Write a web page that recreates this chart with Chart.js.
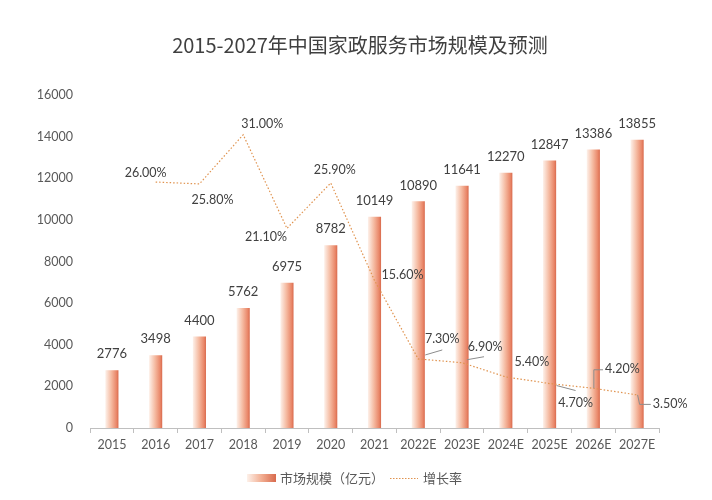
<!DOCTYPE html>
<html>
<head>
<meta charset="utf-8">
<script src="https://cdn.jsdelivr.net/npm/chart.js@4/dist/chart.umd.min.js"></script>
<style>
  html, body { margin: 0; padding: 0; background: #ffffff; }
  #wrap { width: 712px; height: 500px; position: relative; }
</style>
</head>
<body>
<div id="wrap"><canvas id="c" width="712" height="500"></canvas></div>
<script>
// ---- data ----
const categories = ['2015','2016','2017','2018','2019','2020','2021','2022E','2023E','2024E','2025E','2026E','2027E'];
const marketSize = [2776, 3498, 4400, 5762, 6975, 8782, 10149, 10890, 11641, 12270, 12847, 13386, 13855];
const growthRate = [null, 26.0, 25.8, 31.0, 21.1, 25.9, 15.6, 7.3, 6.9, 5.4, 4.7, 4.2, 3.5];
const yTicks = ['0','2000','4000','6000','8000','10000','12000','14000','16000'];
const titleText = '2015-2027年中国家政服务市场规模及预测';
const barSeriesName = '市场规模（亿元）';
const lineSeriesName = '增长率';

// ---- styling / label placement (not data) ----
const BAR_PCT = 0.3;
// label offset from point [dx, dy]; leader: null or {type, start:[dx,dy] from point, end:[dx,dy] from label centre}
const lineLabelOffsets = [
  null, [-10,-9], [13,16], [19,-11], [-21,9], [4,-13], [28,-5],
  [24,-20], [23,-16], [26,-15], [26,19], [29,-19], [33,9]
];
const lineLeaders = [
  null, null, null, null, null, null, null,
  {type: 'line', start: [7,-4], end: [0,11]},
  {type: 'line', start: [5,-3], end: [-1,10]},
  null,
  {type: 'line', start: [7,2], end: [0,-12]},
  {type: 'elbow', start: [0,0]},
  {type: 'elbow', start: [0,0]}
];

function barGradient(ctx) {
  const chart = ctx.chart;
  const xs = chart.scales && chart.scales.x;
  if (!xs || !chart.chartArea) return '#EE9A7C';
  const cx = xs.getPixelForValue(ctx.dataIndex);
  const half = (xs.width / categories.length) * BAR_PCT / 2;
  const g = chart.ctx.createLinearGradient(cx - half, 0, cx + half, 0);
  g.addColorStop(0, '#FDF1EA');
  g.addColorStop(0.45, '#F5BBA2');
  g.addColorStop(0.85, '#E98668');
  g.addColorStop(1, '#D86A4D');
  return g;
}

const labelPlugin = {
  id: 'labels',
  afterDatasetsDraw(chart) {
    const c = chart.ctx;
    c.save();
    // bar value labels
    c.font = '13px Lato, "Noto Sans", sans-serif';
    c.fillStyle = '#404040';
    c.textAlign = 'center';
    c.textBaseline = 'middle';
    const bm = chart.getDatasetMeta(0);
    bm.data.forEach((el, i) => {
      c.fillText(String(marketSize[i]), el.x, el.y - 16);
    });
    // line labels
    c.font = '12.5px Lato, "Noto Sans", sans-serif';
    const lm = chart.getDatasetMeta(1);
    lm.data.forEach((el, i) => {
      const v = growthRate[i];
      if (v === null || v === undefined) return;
      const o = lineLabelOffsets[i];
      const tx = el.x + o[0], ty = el.y + o[1];
      const txt = v.toFixed(2) + '%';
      const w = c.measureText(txt).width;
      const L = lineLeaders[i];
      c.strokeStyle = '#8C8C8C';
      c.lineWidth = 1;
      if (L && L.type === 'line') {
        c.beginPath();
        c.moveTo(el.x + L.start[0], el.y + L.start[1]);
        c.lineTo(tx + L.end[0], ty + L.end[1]);
        c.stroke();
      } else if (L && L.type === 'elbow') {
        c.beginPath();
        c.moveTo(el.x + 0.5, el.y);
        c.lineTo(el.x + 0.5 + (ty > el.y ? 2 : 0), ty + 0.5);
        c.lineTo(tx - w / 2 - 2, ty + 0.5);
        c.stroke();
      }
      c.fillStyle = '#404040';
      c.fillText(txt, tx, ty);
    });
    c.restore();
  },
  afterDraw(chart) {
    const c = chart.ctx;
    c.save();
    // title
    c.font = '20px "Noto Sans CJK SC", Lato, sans-serif';
    c.fillStyle = '#404040';
    c.textAlign = 'center';
    c.textBaseline = 'middle';
    c.fillText(titleText, 360, 45);
    // legend
    const g = c.createLinearGradient(247, 0, 276, 0);
    g.addColorStop(0, '#FDF1EA');
    g.addColorStop(0.5, '#F2AE92');
    g.addColorStop(1, '#D86A4D');
    c.fillStyle = g;
    c.fillRect(247, 474, 29, 8);
    c.font = '13px "Noto Sans CJK SC", sans-serif';
    c.fillStyle = '#595959';
    c.textAlign = 'left';
    c.fillText(barSeriesName, 280, 478);
    c.strokeStyle = '#E0934F';
    c.lineWidth = 1;
    c.setLineDash([1.5, 1.5]);
    c.beginPath();
    c.moveTo(390, 478.5);
    c.lineTo(418, 478.5);
    c.stroke();
    c.setLineDash([]);
    c.fillText(lineSeriesName, 423, 478);
    c.restore();
  }
};

new Chart(document.getElementById('c'), {
  data: {
    labels: categories,
    datasets: [
      {
        type: 'bar',
        label: barSeriesName,
        data: marketSize,
        yAxisID: 'y',
        backgroundColor: barGradient,
        borderWidth: 0,
        barPercentage: BAR_PCT,
        categoryPercentage: 1.0,
        order: 2
      },
      {
        type: 'line',
        label: lineSeriesName,
        data: growthRate,
        yAxisID: 'y2',
        borderColor: '#E0934F',
        borderWidth: 1.2,
        borderDash: [1.5, 2],
        pointRadius: 0,
        fill: false,
        tension: 0,
        spanGaps: false,
        order: 1
      }
    ]
  },
  options: {
    responsive: false,
    animation: false,
    devicePixelRatio: 1,
    layout: { padding: { top: 95, right: 53, bottom: 42, left: 0 } },
    plugins: {
      legend: { display: false },
      title: { display: false },
      tooltip: { enabled: false }
    },
    scales: {
      x: {
        offset: true,
        grid: { display: true, drawOnChartArea: false, drawTicks: true, tickLength: 5, color: '#BFBFBF', offset: true },
        border: { display: true, color: '#BFBFBF' },
        ticks: { color: '#595959', font: { size: 12.5, family: 'Lato, "Noto Sans", sans-serif' }, padding: 4, maxRotation: 0, autoSkip: false },
        afterFit(s) { s.height = 30; }
      },
      y: {
        min: 0, max: 16000,
        ticks: {
          stepSize: 2000, color: '#595959', font: { size: 12.5, family: 'Lato, "Noto Sans", sans-serif' }, padding: 9,
          callback: (v, i) => yTicks[i]
        },
        grid: { display: false },
        border: { display: false },
        afterFit(s) { s.width = 90; }
      },
      y2: {
        display: false,
        min: 0, max: 35.2,
        position: 'right'
      }
    }
  },
  plugins: [labelPlugin]
});
</script>
</body>
</html>
